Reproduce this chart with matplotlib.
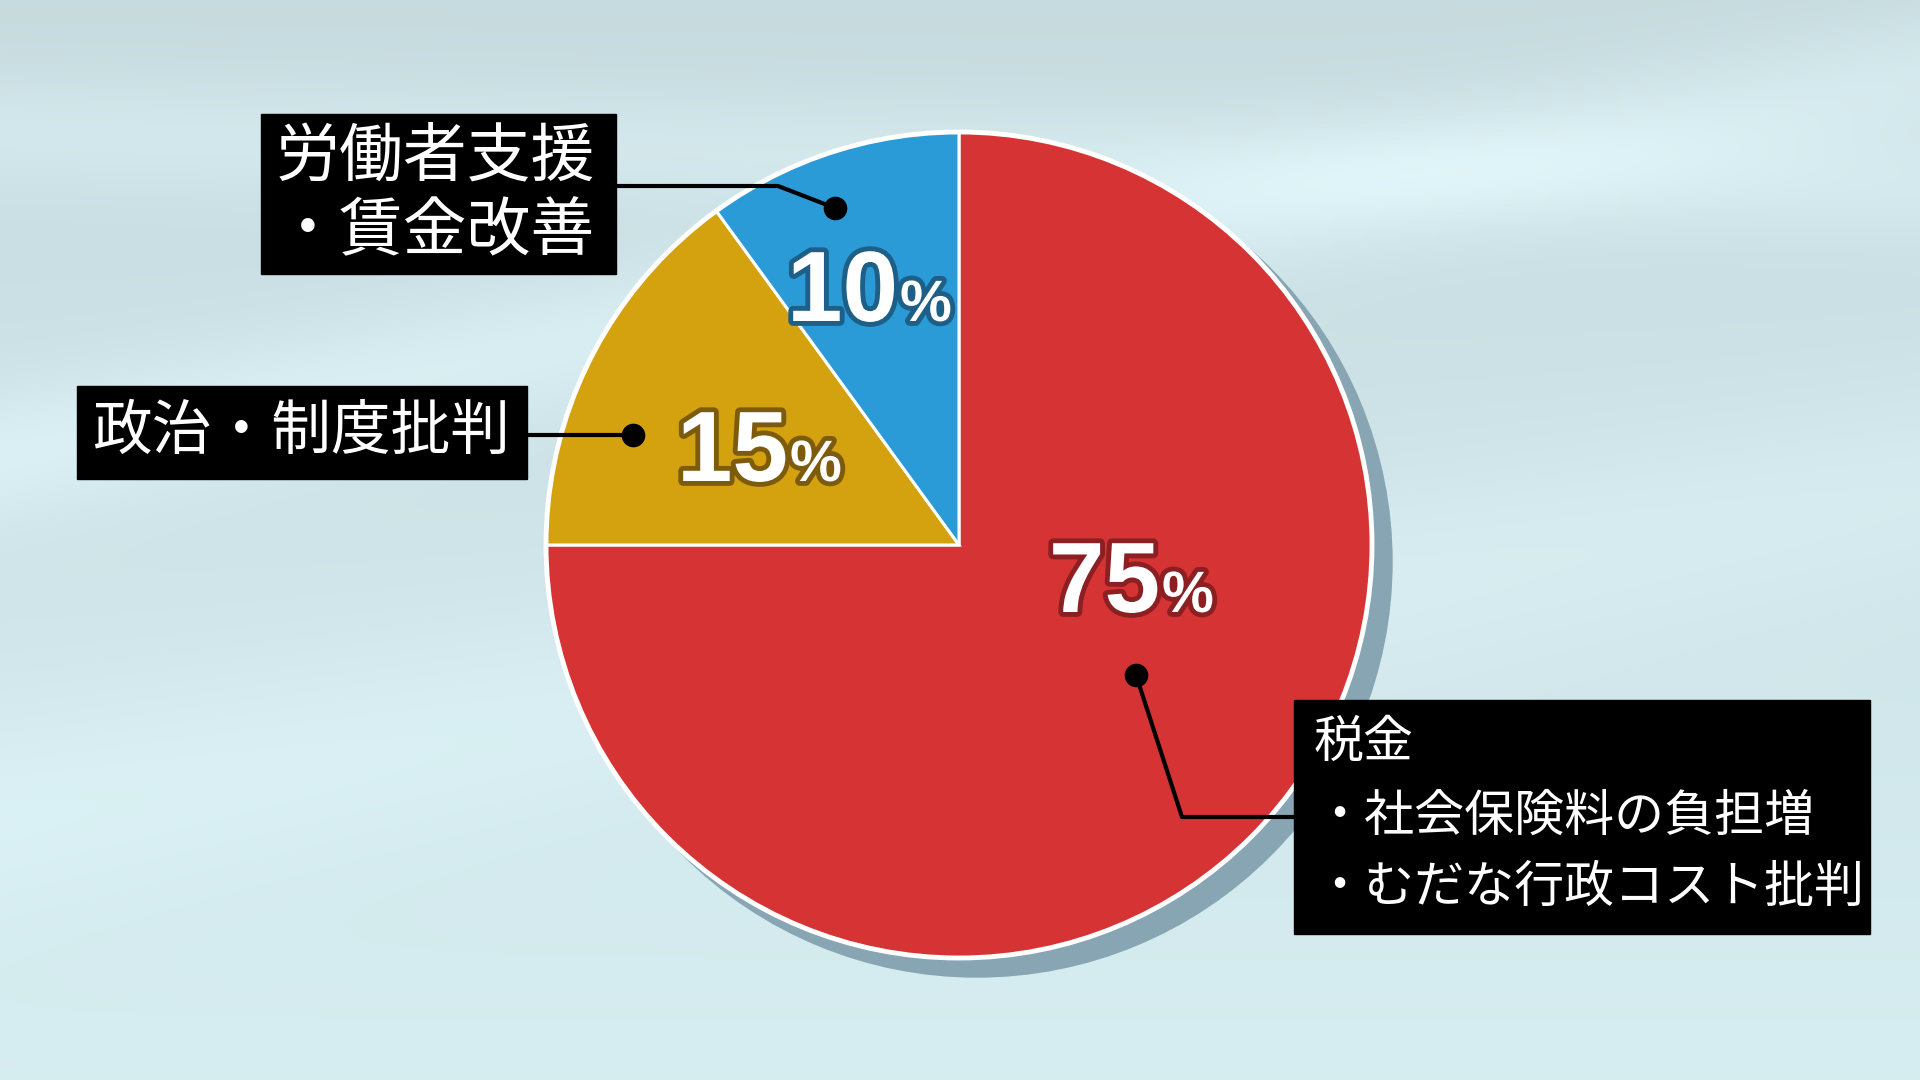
import matplotlib.pyplot as plt
import matplotlib.patheffects as pe
from matplotlib.patches import Circle, Rectangle
import numpy as np

plt.rcParams['font.family'] = ['Noto Sans CJK JP', 'DejaVu Sans']

# data
labels = ['税金\n・社会保険料の負担増\n・むだな行政コスト批判', '政治・制度批判', '労働者支援\n・賃金改善']
shares = [75, 15, 10]
pct_text = ['75', '15', '10']
colors = ['#d63434', '#d4a10f', '#2b9bd8']
outline = ['#8c1f22', '#7d5b0c', '#1d5f87']

W, H = 1920, 1080
fig = plt.figure(figsize=(19.2, 10.8), dpi=100)
ax = fig.add_axes([0, 0, 1, 1])

# background gradient with soft light bands
yy, xx = np.mgrid[0:1:270j, 0:1:480j]
top = np.array([0.78, 0.86, 0.875])
bot = np.array([0.84, 0.93, 0.945])
bg = top[None, None, :] * (1 - yy[..., None]) + bot[None, None, :] * yy[..., None]
band = 0.05 * np.exp(-((yy - (0.42 - 0.35 * xx)) ** 2) / 0.004)
band += 0.04 * np.exp(-((yy - (0.12 + 0.05 * xx)) ** 2) / 0.003)
band += 0.03 * np.exp(-((yy - (0.75 - 0.3 * xx)) ** 2) / 0.01)
bg = np.clip(bg + band[..., None], 0, 1)
ax.imshow(bg, extent=[0, W, 0, H], origin='upper', aspect='auto', zorder=0)

cx, cy, R = 959, 535, 413

# shadow
ax.add_patch(Circle((cx + 18, cy - 17), R + 2, color='#88a5b3', zorder=1))

ax.pie(shares, colors=colors, startangle=90, counterclock=False,
       center=(cx, cy), radius=R, frame=True,
       wedgeprops=dict(edgecolor='white', linewidth=2.2, zorder=2))
ax.add_patch(Circle((cx, cy), R, fill=False, edgecolor='white', lw=3.5, zorder=3))

# percentage labels
pct_pos = [(1160, 468), (788, 599), (898, 759)]
for t, (x, y), oc in zip(pct_text, pct_pos, outline):
    fx = [pe.withStroke(linewidth=7, foreground=oc)]
    ax.text(x, y, t, ha='right', va='baseline', fontsize=72, fontweight='bold',
            family=['Liberation Sans', 'DejaVu Sans'], color='white',
            path_effects=fx, zorder=5)
    ax.text(x + 2, y, '%', ha='left', va='baseline', fontsize=42, fontweight='bold',
            family=['Liberation Sans', 'DejaVu Sans'], color='white',
            path_effects=fx, zorder=5)

# label boxes
boxes = [(1294, 146, 576, 234), (77, 601, 450, 93), (261, 806, 355, 160)]
text_x = [1314, 92, 276]
line_y = [[337, 263, 192], [648], [923, 848]]
sizes = [36, 43, 46]
for lab, (bx, by, bw, bh), tx, ys, fs in zip(labels, boxes, text_x, line_y, sizes):
    ax.add_patch(Rectangle((bx, by), bw, bh, color='black', zorder=6))
    for line, y in zip(lab.split('\n'), ys):
        ax.text(tx, y, line, ha='left', va='center', fontsize=fs, color='white', zorder=7)

# leader lines
leaders = [
    [(1136, 405), (1182, 263), (1294, 263)],
    [(633, 645), (527, 645)],
    [(835, 872), (778, 894), (616, 894)],
]
for pts in leaders:
    xs = [p[0] for p in pts]
    ys = [p[1] for p in pts]
    ax.plot(xs, ys, color='black', lw=3, zorder=4, solid_capstyle='butt')
    ax.plot(xs[0], ys[0], 'o', color='black', markersize=16, zorder=4)

ax.set_xlim(0, W)
ax.set_ylim(0, H)
ax.set_aspect('auto')
ax.axis('off')

fig.savefig('out.png', dpi=100)
